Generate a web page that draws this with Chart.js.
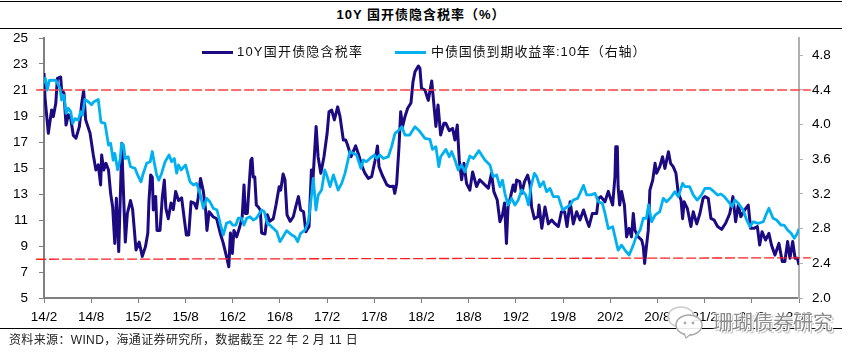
<!DOCTYPE html>
<html lang="zh-CN">
<head>
<meta charset="utf-8">
<title>10Y 国开债隐含税率</title>
<script src="https://cdn.jsdelivr.net/npm/chart.js@4/dist/chart.umd.min.js"></script>
<style>
  html, body { margin: 0; padding: 0; background: #fff; }
  body { position: relative; width: 862px; height: 360px; overflow: hidden; font-family: "Liberation Sans", "Noto Sans CJK SC", sans-serif; color: #000; }
  canvas { position: absolute; left: 0; top: 0; }
  .rule { position: absolute; left: 0; width: 842px; height: 1px; background: #000; }
  .title { position: absolute; left: 0; width: 842px; top: 6px; text-align: center; font-size: 13px; line-height: 18px; font-weight: bold; letter-spacing: 1px; }
  .source { position: absolute; left: 9px; top: 332px; font-size: 12px; line-height: 17px; color: #222; letter-spacing: .35px; }
  .legend-text { position: absolute; top: 43px; font-size: 13px; line-height: 18px; color: #111; white-space: nowrap; }
  .legend-line { position: absolute; top: 51px; width: 31px; height: 3px; }
  .mark { position: absolute; left: 713px; top: 310px; font-size: 20px; line-height: 26px; color: #8c8c8c; white-space: nowrap; text-shadow: 1px 1px 0 #fff, -1px -1px 0 #fff, 2px 2px 1px #bbb; }
  .mark-icon { position: absolute; left: 666px; top: 305px; }
</style>
</head>
<body>
<div class="rule" style="top:1px"></div>
<div class="rule" style="top:28px"></div>
<div class="rule" style="top:328px"></div>
<div class="title">10Y 国开债隐含税率（%）</div>
<canvas id="chart" width="862" height="360"></canvas>
<div class="legend-line" style="left:202px;background:#1b0a82"></div>
<div class="legend-text" style="left:237px;letter-spacing:1.2px">10Y国开债隐含税率</div>
<div class="legend-line" style="left:395px;background:#00b0f0"></div>
<div class="legend-text" style="left:431px;letter-spacing:.9px">中债国债到期收益率:10年（右轴）</div>
<div class="source">资料来源：WIND，海通证券研究所，数据截至 22 年 2 月 11 日</div>
<svg class="mark-icon" width="38" height="34" viewBox="0 0 38 34">
  <ellipse cx="15" cy="12" rx="13" ry="10" fill="rgba(255,255,255,.75)" stroke="#ccc" stroke-width="1.5"/>
  <ellipse cx="23" cy="20" rx="13" ry="10" fill="rgba(255,255,255,.9)" stroke="#aaa" stroke-width="1.5"/>
  <path d="M18 28 L20 33 L25 29" fill="#fff" stroke="#aaa" stroke-width="1.2"/>
  <circle cx="19" cy="18" r="1.4" fill="#aaa"/>
  <circle cx="27" cy="18" r="1.4" fill="#aaa"/>
</svg>
<div class="mark">珊瑚债券研究</div>

<script>
// 月份 = 自 2014 年 2 月起的月数
const tickLabels = ['14/2', '14/8', '15/2', '15/8', '16/2', '16/8', '17/2', '17/8', '18/2', '18/8', '19/2', '19/8', '20/2', '20/8', '21/2', '21/8', '22/2'];

const taxMonths = [
  0, .13, .55, .76, .97, 1.18, 1.5, 1.7, 2.12, 2.24,
  2.54, 2.8, 3.1, 3.4, 3.73, 4.07, 4.5, 4.8, 5.04, 5.3,
  5.85, 6.27, 6.6, 6.9, 7.2, 7.33, 7.6, 7.88, 8.2, 8.47,
  8.73, 9, 9.2, 9.5, 9.9, 10, 10.34, 10.6, 11, 11.27,
  11.7, 12.1, 12.5, 12.9, 13.2, 13.35, 13.56, 13.77, 13.9, 14.2,
  14.37, 14.75, 15.05, 15.3, 15.5, 15.8, 16.15, 16.44, 16.74, 17.1,
  17.5, 17.8, 18.1, 18.4, 18.7, 19.1, 19.4, 19.6, 19.9, 20.26,
  20.55, 20.72, 21, 21.5, 21.95, 22.4, 22.8, 23.2, 23.5, 23.7,
  23.95, 24.15, 24.5, 24.9, 25.2, 25.43, 25.6, 25.85, 26.1, 26.3,
  26.45, 26.6, 26.8, 27, 27.25, 27.5, 27.67, 28.1, 28.4, 28.7,
  29.15, 29.5, 29.9, 30.1, 30.4, 30.64, 30.9, 31.3, 31.7, 32,
  32.35, 32.63, 33, 33.3, 33.7, 34, 34.2, 34.6, 34.85, 35.2,
  35.6, 36, 36.24, 36.58, 36.92, 37.34, 37.64, 38.06, 38.36, 38.6,
  39.04, 39.63, 39.97, 40.4, 40.8, 41.24, 41.66, 42.1, 42.4, 42.6,
  43, 43.6, 44, 44.42, 44.6, 44.84, 45.14, 45.35, 45.6, 45.9,
  46.24, 46.66, 46.92, 47.17, 47.6, 47.8, 48, 48.44, 48.86, 49.3,
  49.6, 49.83, 50.1, 50.43, 50.85, 51.1, 51.53, 51.95, 52.25, 52.55,
  52.8, 53.1, 53.4, 53.73, 54.15, 54.5, 55, 55.4, 56.06, 56.5,
  56.9, 57.2, 57.63, 57.97, 58.3, 58.56, 58.8, 59, 59.33, 59.66,
  59.89, 60.1, 60.5, 60.74, 61.1, 61.5, 61.8, 62, 62.35, 62.8,
  62.94, 63.3, 63.7, 64.13, 64.55, 65, 65.4, 65.8, 66.2, 66.5,
  66.9, 67.3, 67.73, 68.15, 68.6, 69, 69.3, 69.72, 70.27, 70.5,
  70.8, 71.33, 71.75, 72.3, 72.6, 72.7, 72.9, 73, 73.2, 73.44,
  73.8, 74.08, 74.4, 74.7, 74.93, 75.14, 75.56, 76, 76.2, 76.37,
  76.6, 76.83, 77.04, 77.4, 77.7, 77.9, 78.3, 78.65, 78.95, 79.4,
  79.67, 80, 80.35, 80.65, 81, 81.2, 81.4, 81.8, 82.26, 82.55,
  83, 83.4, 83.8, 84.04, 84.46, 84.8, 85.2, 85.65, 86.16, 86.67,
  87.2, 87.6, 87.94, 88.28, 88.6, 89.1, 89.55, 89.85, 90.3, 90.7,
  91, 91.3, 91.75, 92.17, 92.5, 92.94, 93.45, 93.87, 94.2, 94.55,
  94.85, 95.2, 95.5, 95.8, 96
];
const taxValues = [
  22.3, 20.4, 17.67, 18.57, 19.46, 18.95, 19.98, 21.9, 22, 21,
  20.75, 18.3, 19.1, 18.8, 17.5, 17.3, 18.2, 20, 20.95, 18.7,
  17.7, 16, 14.85, 15.25, 13.7, 16, 14.85, 15.36, 14.85, 13.05,
  12, 9.2, 12.67, 8.57, 16.9, 14.85, 9.3, 11.5, 12.5, 11.8,
  8.7, 9.3, 8.2, 8.95, 10, 12.5, 14.46, 14.3, 11.77, 12.8,
  10.2, 10.2, 12.8, 14.07, 11.9, 11.1, 12.3, 11.8, 13.2, 12.5,
  12.7, 11.25, 9.85, 9.85, 12.4, 12.3, 11.9, 12.7, 14.2, 13.2,
  11.77, 10.2, 11.64, 11.25, 11.1, 10, 9.2, 8.2, 7.4, 10,
  8.43, 10.2, 9.7, 10.5, 11.25, 13.7, 11.5, 11.5, 13.8, 15.6,
  15.75, 14.3, 14.3, 12.15, 12, 11.77, 10, 9.92, 11.4, 10.9,
  11.1, 12.15, 13.56, 13.3, 14.54, 14.1, 11.4, 10.9, 11.25, 12,
  12.8, 11.77, 11.64, 10.1, 10.5, 14.85, 14.1, 18.2, 15.87, 14.6,
  15.87, 17.67, 19.33, 19.46, 18.7, 19.7, 18.95, 17.15, 17.15, 16.77,
  15.87, 16.7, 16.1, 15.2, 14.6, 14.2, 14.33, 15.6, 16.7, 15.1,
  14.46, 13.7, 13.57, 13.6, 13.05, 13.8, 16.64, 19.33, 18.2, 18.95,
  19.6, 20, 21.64, 22.4, 22.85, 22.67, 21.13, 21, 20.2, 21.7,
  19.7, 18.2, 19.85, 17.54, 18.44, 18.44, 17.87, 18.05, 17.15, 18.3,
  15.6, 14.1, 15.36, 13.8, 13.3, 14.7, 13.57, 14.1, 13.7, 13.44,
  14.6, 13.18, 12.54, 10.87, 11.4, 12.3, 9.2, 12, 12.8, 13.7,
  13.2, 14.07, 13.95, 13.05, 13.95, 14.46, 13.7, 12, 11.1, 11.25,
  12.15, 10.36, 12, 10.7, 11, 10.7, 10.5, 11.64, 11.64, 10.5,
  12.4, 10.7, 11.64, 11, 11.77, 11, 10.5, 11.5, 11.5, 12.66,
  12.8, 12.4, 13.2, 12.15, 14.33, 16.64, 16.64, 13.56, 12.15, 13.2,
  12.15, 9.7, 10.36, 9.7, 11.5, 10.2, 9.7, 9.46, 8.95, 7.66,
  8.95, 10.2, 13.3, 14.07, 15.36, 14.6, 15.1, 15.87, 14.97, 16.25,
  15.36, 15.1, 14.6, 13.05, 12.54, 11.1, 12.4, 11.9, 10.5, 11.64,
  10.7, 11.5, 12.66, 12.8, 12.67, 11.13, 11, 10.5, 10.28, 10.75,
  11.5, 12.8, 10.87, 12.15, 11.26, 11.77, 12.15, 10.36, 10.36, 10.5,
  9.08, 10.1, 9.46, 9.97, 9.08, 8.3, 9.2, 7.8, 7.8, 9.34,
  8.05, 9.34, 8.05, 8.05, 7.54
];

const yieldMonths = [
  0, .17, .42, .68, 1.18, 1.52, 1.82, 2.03, 2.24, 2.54,
  2.8, 3.1, 3.4, 3.64, 3.94, 4.36, 4.66, 4.9, 5.2, 5.63,
  6.05, 6.35, 6.9, 7.24, 7.75, 8.2, 8.47, 8.8, 9, 9.36,
  9.66, 9.87, 10.1, 10.34, 10.7, 11, 11.57, 11.9, 12.33, 12.63,
  13.05, 13.5, 13.77, 14, 14.33, 14.6, 14.96, 15.4, 15.9, 16.23,
  16.57, 16.87, 17.1, 17.42, 18, 18.56, 19, 19.4, 19.83, 20.26,
  20.7, 21.1, 21.53, 22, 22.4, 22.8, 23.2, 23.65, 24, 24.4,
  24.7, 25.1, 25.43, 25.77, 26.2, 26.6, 27, 27.67, 28, 28.4,
  28.7, 29.15, 29.6, 30, 30.4, 30.85, 31.5, 31.9, 32.25, 32.63,
  33.2, 33.6, 33.9, 34.24, 34.58, 34.87, 35.3, 35.7, 35.94, 36.37,
  36.8, 37.4, 37.85, 38.27, 38.7, 38.9, 39.33, 39.75, 40.3, 40.6,
  41, 41.45, 42, 42.3, 42.7, 43.15, 43.78, 44.2, 44.63, 45.14,
  45.5, 45.9, 46.5, 47.17, 47.8, 48.44, 49.07, 49.4, 49.83, 50.2,
  50.43, 51.1, 51.53, 51.83, 52.25, 52.67, 53.1, 53.5, 54.15, 54.6,
  55.3, 56.06, 56.7, 57.1, 57.55, 57.97, 58.3, 58.6, 59, 59.45,
  59.89, 60.3, 60.74, 61.25, 61.6, 61.92, 62.35, 62.65, 63.07, 63.5,
  63.9, 64.34, 64.76, 65.4, 65.95, 66.5, 66.9, 67.3, 67.85, 68.15,
  68.6, 69, 69.55, 70.06, 70.5, 71, 71.33, 71.75, 72.3, 72.6,
  73, 73.44, 73.87, 74.4, 74.93, 75.3, 75.8, 76.2, 76.6, 76.87,
  77.26, 77.7, 78.3, 78.74, 79.16, 79.8, 80.2, 80.65, 81.2, 81.5,
  82.1, 82.55, 83.06, 83.6, 84.04, 84.68, 85.2, 85.65, 86.07, 86.5,
  87.2, 87.5, 87.85, 88.28, 88.9, 89.34, 89.76, 90.18, 90.8, 91.46,
  91.88, 92.17, 92.7, 93.15, 93.7, 94.1, 94.55, 95, 95.4, 95.8,
  96
];
const yieldValues = [
  4.476, 4.535, 4.4, 4.51, 4.515, 4.51, 4.46, 4.42, 4.285, 4.34,
  4.13, 4.19, 4.15, 4.015, 4.07, 4.05, 4.15, 4.11, 4.29, 4.265,
  4.23, 4.265, 4.29, 4.03, 4.015, 3.765, 3.785, 3.59, 3.67, 3.48,
  3.59, 3.785, 3.765, 3.61, 3.63, 3.515, 3.496, 3.42, 3.34, 3.44,
  3.554, 3.573, 3.69, 3.573, 3.42, 3.36, 3.44, 3.573, 3.65, 3.573,
  3.61, 3.44, 3.535, 3.477, 3.535, 3.342, 3.304, 3.323, 3.208, 3.035,
  3.15, 3.11, 3.035, 3.015, 2.862, 2.727, 2.862, 2.88, 2.842, 2.842,
  2.92, 2.92, 2.842, 2.92, 2.938, 2.9, 2.92, 3.015, 2.996, 2.86,
  2.842, 2.804, 2.765, 2.65, 2.708, 2.777, 2.727, 2.708, 2.65, 2.746,
  2.785, 2.88, 3.09, 3.38, 3.015, 3.19, 3.246, 3.477, 3.42, 3.285,
  3.42, 3.246, 3.323, 3.438, 3.61, 3.69, 3.67, 3.65, 3.496, 3.592,
  3.573, 3.61, 3.65, 3.61, 3.65, 3.61, 3.63, 3.746, 3.9, 3.938,
  3.977, 3.88, 3.88, 3.977, 3.92, 3.842, 3.83, 3.715, 3.746, 3.515,
  3.63, 3.715, 3.63, 3.69, 3.592, 3.477, 3.535, 3.457, 3.638, 3.61,
  3.7, 3.592, 3.535, 3.4, 3.42, 3.285, 3.36, 3.208, 3.073, 3.15,
  3.073, 3.13, 3.246, 3.19, 3.073, 3.284, 3.438, 3.4, 3.284, 3.342,
  3.227, 3.265, 3.17, 3.17, 3.015, 3.05, 3.073, 3.13, 3.15, 3.207,
  3.3, 3.19, 3.19, 3.207, 3.11, 3.092, 2.977, 2.8, 2.823, 2.708,
  2.553, 2.61, 2.553, 2.496, 2.61, 2.708, 2.784, 2.92, 2.92, 3.073,
  2.88, 2.957, 2.996, 3.15, 3.11, 3.17, 3.227, 3.17, 3.323, 3.284,
  3.284, 3.19, 3.13, 3.19, 3.265, 3.265, 3.227, 3.188, 3.2, 3.17,
  3.092, 3.054, 3.13, 3.092, 3.015, 2.9, 2.823, 2.88, 2.861, 2.88,
  2.977, 3.035, 2.92, 2.9, 2.842, 2.842, 2.785, 2.746, 2.688, 2.746,
  2.8
];

// 上下两条红色虚线，略微伸出坐标轴之外
const refMonths = [-1, 97.5];
const refHighValues = [21, 21];
const refLowValues = [7.98, 8.09];

function toPoints(months, values) {
  return months.map(function (m, i) {
    return { x: m, y: values[i] };
  });
}

const tickFont = { family: '"Liberation Sans", sans-serif', size: 13.5 };

new Chart(document.getElementById('chart'), {
  type: 'line',
  data: {
    datasets: [
      {
        label: '高位',
        data: toPoints(refMonths, refHighValues),
        yAxisID: 'y',
        borderColor: '#ff4040',
        borderWidth: 1.6,
        borderDash: [10, 3],
        clip: false,
        order: 0,
      },
      {
        label: '低位',
        data: toPoints(refMonths, refLowValues),
        yAxisID: 'y',
        borderColor: '#ff2020',
        borderWidth: 1.3,
        borderDash: [10, 3],
        clip: false,
        order: 0,
      },
      {
        label: '中债国债到期收益率:10年（右轴）',
        data: toPoints(yieldMonths, yieldValues),
        yAxisID: 'y2',
        borderColor: '#00b0f0',
        borderWidth: 2.8,
        order: 1,
      },
      {
        label: '10Y国开债隐含税率',
        data: toPoints(taxMonths, taxValues),
        yAxisID: 'y',
        borderColor: '#1b0a82',
        borderWidth: 3,
        order: 2,
      },
    ],
  },
  options: {
    responsive: false,
    animation: false,
    parsing: false,
    normalized: true,
    layout: { padding: { top: 38, left: 0, right: 0, bottom: 0 } },
    elements: {
      point: { radius: 0 },
      line: { tension: 0, borderCapStyle: 'butt', borderJoinStyle: 'round' },
    },
    plugins: {
      legend: { display: false },
      tooltip: { enabled: false },
    },
    scales: {
      x: {
        type: 'linear',
        min: 0,
        max: 96,
        grid: { drawOnChartArea: false, color: '#808080', tickLength: 5 },
        border: { color: '#808080', width: 2 },
        ticks: {
          stepSize: 6,
          autoSkip: false,
          maxRotation: 0,
          padding: 6,
          color: '#000',
          font: tickFont,
          callback: function (value) {
            return tickLabels[value / 6];
          },
        },
        afterFit: function (scale) {
          scale.height = 62;
        },
      },
      y: {
        position: 'left',
        min: 5,
        max: 25,
        grid: { drawOnChartArea: false, color: '#808080', tickLength: 5 },
        border: { color: '#808080', width: 2 },
        ticks: { stepSize: 2, padding: 11, color: '#000', font: tickFont },
        afterFit: function (scale) {
          scale.width = 44;
        },
      },
      y2: {
        position: 'right',
        min: 2,
        max: 5,
        grid: { drawOnChartArea: false, color: '#b0b0b0', tickLength: 4 },
        border: { color: '#b0b0b0', width: 2 },
        ticks: {
          stepSize: 0.4,
          includeBounds: false,
          padding: 9,
          color: '#000',
          font: tickFont,
          callback: function (value) {
            return value.toFixed(1);
          },
        },
        afterFit: function (scale) {
          scale.width = 63;
        },
      },
    },
  },
});
</script>
</body>
</html>
